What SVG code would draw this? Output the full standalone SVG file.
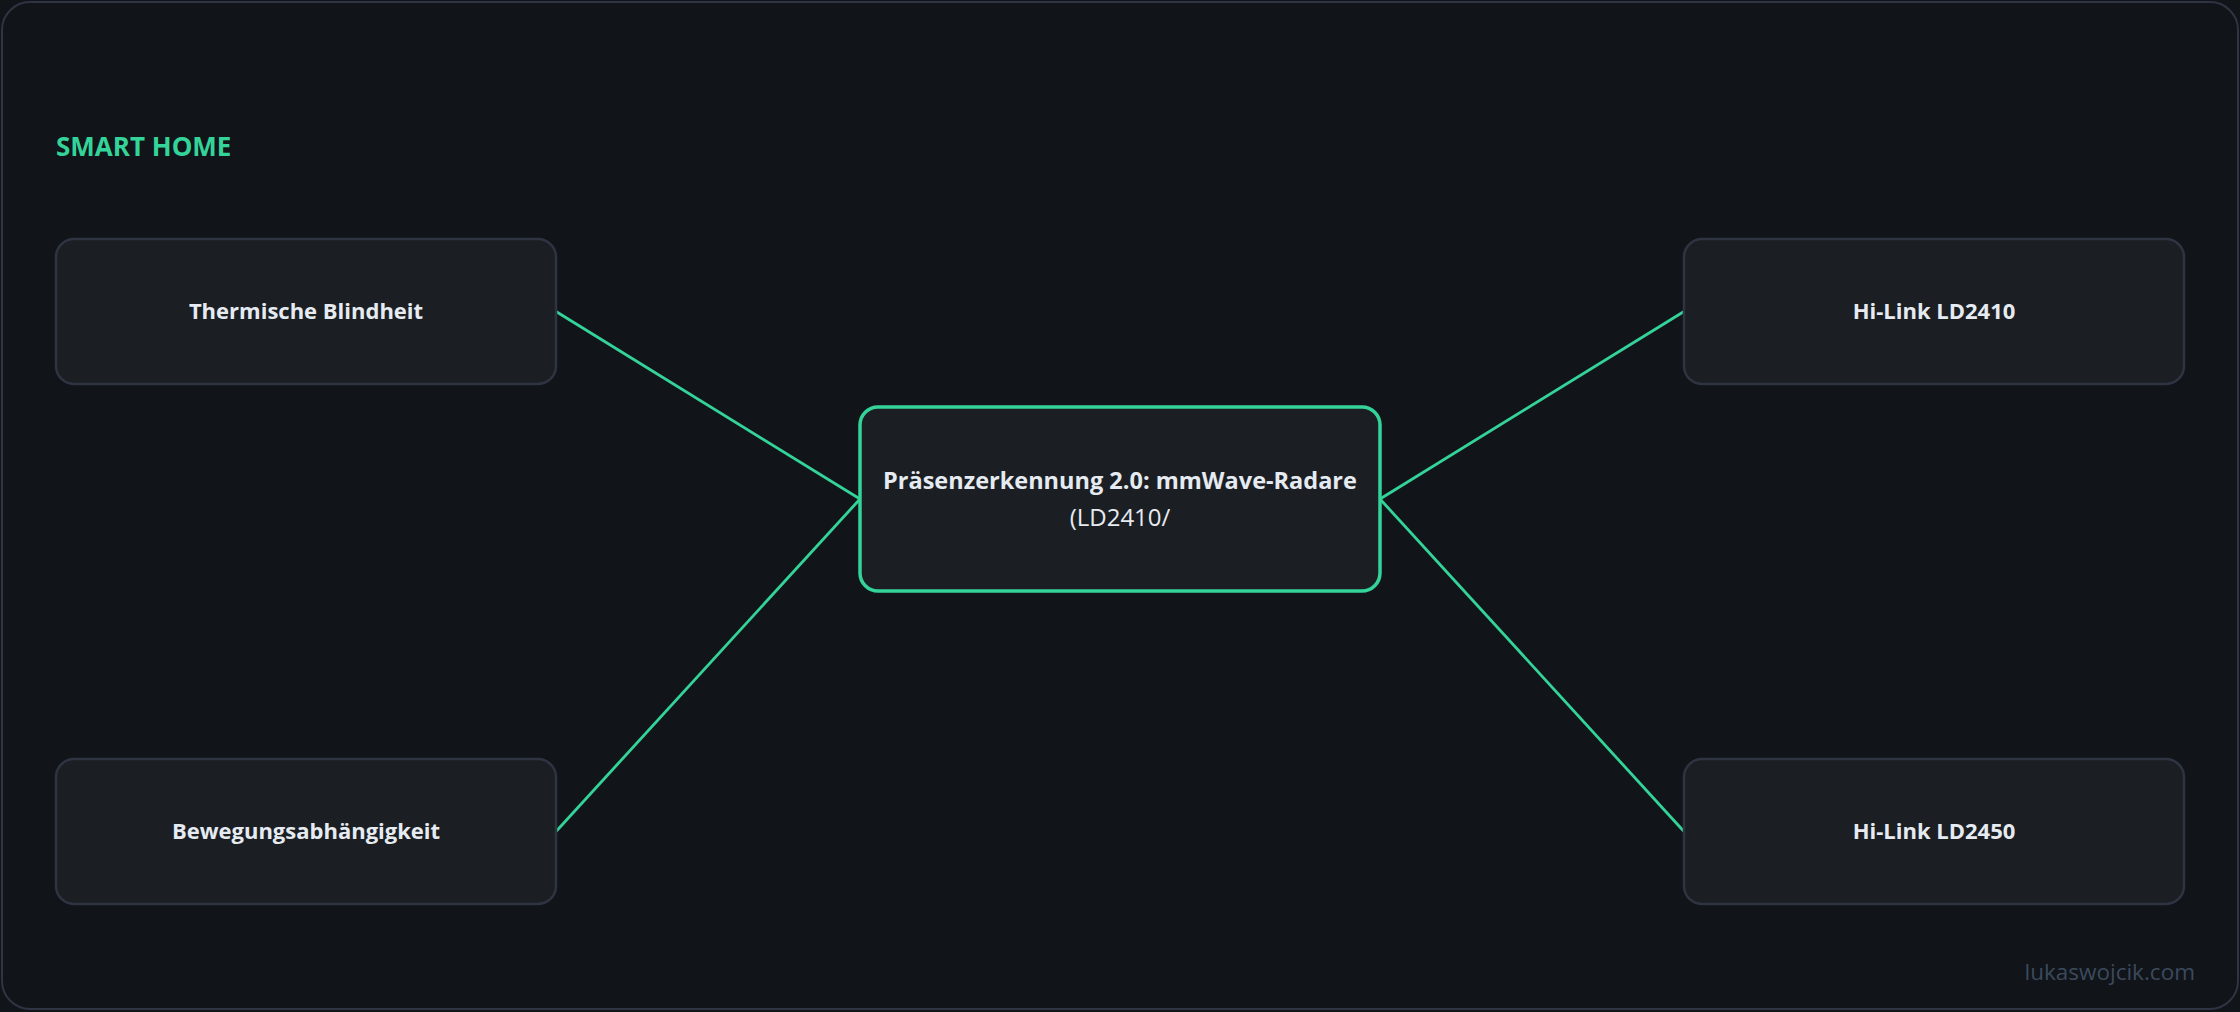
<svg xmlns="http://www.w3.org/2000/svg" width="2240" height="1012" viewBox="0 0 2240 1012">
<style>
.node rect{fill:#1b1f23;stroke:#2e3442;stroke-width:2.5}
.node text{font-family:"Open Sans","Noto Sans","Liberation Sans",sans-serif;font-weight:700;font-size:22px;fill:#e6ebf2;text-anchor:middle}
#center rect{stroke:#34d399;stroke-width:3.5}
#center .t{font-size:23.5px}
#center .s{font-weight:400;font-size:24px}
#edges line{stroke:#34d399;stroke-width:2.8}
</style>
<rect x="0" y="0" width="2240" height="1012" fill="#111418"/>
<rect x="2" y="2" width="2236" height="1007" rx="28" fill="#111418" stroke="#2e3442" stroke-width="2"/>
<text x="56" y="156" font-family="'Open Sans','Noto Sans','Liberation Sans',sans-serif" font-weight="700" font-size="26" fill="#34d399">SMART HOME</text>
<g id="edges">
<line x1="556" y1="311.5" x2="860" y2="499"/>
<line x1="556" y1="831.5" x2="860" y2="499"/>
<line x1="1380" y1="499" x2="1684" y2="311.5"/>
<line x1="1380" y1="499" x2="1684" y2="831.5"/>
</g>
<g id="n1" class="node"><rect x="56" y="239" width="500" height="145" rx="18"/><text x="306" y="319">Thermische Blindheit</text></g>
<g id="n2" class="node"><rect x="56" y="759" width="500" height="145" rx="18"/><text x="306" y="839">Bewegungsabhängigkeit</text></g>
<g id="n3" class="node"><rect x="1684" y="239" width="500" height="145" rx="18"/><text x="1934" y="319">Hi-Link LD2410</text></g>
<g id="n4" class="node"><rect x="1684" y="759" width="500" height="145" rx="18"/><text x="1934" y="839">Hi-Link LD2450</text></g>
<g id="center" class="node"><rect x="860" y="407" width="520" height="184" rx="18"/><text class="t" x="1120" y="489">Präsenzerkennung 2.0: mmWave-Radare</text><text class="s" x="1120" y="526">(LD2410/</text></g>
<text x="2195" y="980" text-anchor="end" font-family="'Open Sans','Noto Sans','Liberation Sans',sans-serif" font-size="22.5" fill="#3b4a5e">lukaswojcik.com</text>
</svg>
